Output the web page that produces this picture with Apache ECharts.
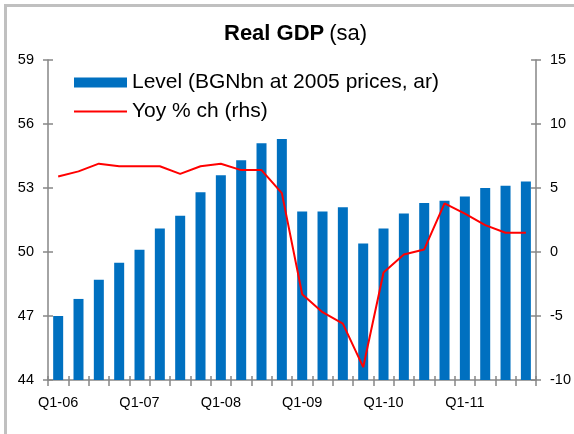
<!DOCTYPE html>
<html>
<head>
<meta charset="utf-8">
<script src="https://cdn.jsdelivr.net/npm/echarts@6/dist/echarts.min.js"></script>
<style>
  html, body { margin: 0; padding: 0; background: #fff; }
  #chart { width: 574px; height: 434px; }
</style>
</head>
<body>
<div id="chart"></div>
<script>
// Quarterly categories, Q1 2006 - Q4 2011
const quarters = [
  'Q1-06','Q2-06','Q3-06','Q4-06',
  'Q1-07','Q2-07','Q3-07','Q4-07',
  'Q1-08','Q2-08','Q3-08','Q4-08',
  'Q1-09','Q2-09','Q3-09','Q4-09',
  'Q1-10','Q2-10','Q3-10','Q4-10',
  'Q1-11','Q2-11','Q3-11','Q4-11'
];
// Real GDP level, BGN bn at 2005 prices, annualised (left axis)
const gdpLevel = [
  47.0, 47.8, 48.7, 49.5,
  50.1, 51.1, 51.7, 52.8,
  53.6, 54.3, 55.1, 55.3,
  51.9, 51.9, 52.1, 50.4,
  51.1, 51.8, 52.3, 52.4,
  52.6, 53.0, 53.1, 53.3
];
// Year-on-year % change (right axis)
const yoyChange = [
  5.9, 6.3, 6.9, 6.7,
  6.7, 6.7, 6.1, 6.7,
  6.9, 6.4, 6.4, 4.6,
  -3.3, -4.7, -5.6, -9.0,
  -1.6, -0.2, 0.2, 3.8,
  3.0, 2.1, 1.5, 1.5
];
const seriesNames = ['Level (BGNbn at 2005 prices, ar)', 'Yoy % ch (rhs)'];

const FONT = '"Liberation Sans", Arial, sans-serif';
const AXIS_GREY = '#868686';
const labelStyle = { color: '#000', fontFamily: FONT, fontSize: 14.5 };

const chart = echarts.init(document.getElementById('chart'), null, { renderer: 'canvas' });

// Ticks cross the axis line: one axis draws the outer half, a twin draws the inner half
function catAxis(inside) {
  return {
    type: 'category',
    data: quarters,
    position: 'bottom',
    boundaryGap: true,
    axisLine: { show: !inside, onZero: false, lineStyle: { color: AXIS_GREY, width: 1.5 } },
    axisTick: { show: true, inside: inside, length: inside ? 4 : 6, interval: 0,
                lineStyle: { color: AXIS_GREY, width: 1.5 } },
    axisLabel: { show: !inside, interval: 3, margin: 15, ...labelStyle },
    splitLine: { show: false }
  };
}
function valAxis(pos, min, max, step, inside) {
  return {
    type: 'value',
    position: pos,
    min: min, max: max, interval: step,
    axisLine: { show: !inside, onZero: false, lineStyle: { color: AXIS_GREY, width: 1.5 } },
    axisTick: { show: true, inside: inside, length: 5, lineStyle: { color: AXIS_GREY, width: 1.5 } },
    axisLabel: { show: !inside, margin: 14, ...labelStyle },
    splitLine: { show: false }
  };
}

chart.setOption({
  animation: false,
  backgroundColor: '#fff',
  title: {
    text: '{b|Real GDP} {n|(sa)}',
    left: 224,
    top: 23,
    padding: 0,
    textStyle: {
      fontWeight: 'normal',
      rich: {
        b: { fontFamily: FONT, fontSize: 22, fontWeight: 'bold', color: '#000' },
        n: { fontFamily: FONT, fontSize: 22, fontWeight: 'normal', color: '#000' }
      }
    }
  },
  legend: {
    orient: 'vertical',
    left: 73,
    top: 72,
    padding: 0,
    itemWidth: 53,
    itemHeight: 10,
    itemGap: 8,
    textStyle: { color: '#000', fontFamily: FONT, fontSize: 21 },
    data: [
      { name: seriesNames[0], icon: 'rect' },
      { name: seriesNames[1], icon: 'inherit', itemStyle: { opacity: 0 } }
    ]
  },
  graphic: [{
    type: 'rect',
    shape: { x: 5.5, y: 5.5, width: 620, height: 480 },
    style: { fill: 'none', stroke: '#c0c0c0', lineWidth: 3 },
    silent: true,
    z: 100
  }],
  grid: { left: 48, right: 37, top: 60, bottom: 54, containLabel: false },
  xAxis: [catAxis(false), catAxis(true)],
  yAxis: [
    valAxis('left', 44, 59, 3, false),
    valAxis('left', 44, 59, 3, true),
    valAxis('right', -10, 15, 5, false),
    valAxis('right', -10, 15, 5, true)
  ],
  series: [
    {
      name: seriesNames[0],
      type: 'bar',
      xAxisIndex: 0,
      yAxisIndex: 0,
      data: gdpLevel,
      barWidth: 10,
      itemStyle: { color: '#0070C0' }
    },
    {
      name: seriesNames[1],
      type: 'line',
      xAxisIndex: 0,
      yAxisIndex: 2,
      data: yoyChange,
      symbol: 'none',
      lineStyle: { color: '#FF0000', width: 2 },
      itemStyle: { color: '#FF0000' },
      z: 5
    }
  ]
});
</script>
</body>
</html>
